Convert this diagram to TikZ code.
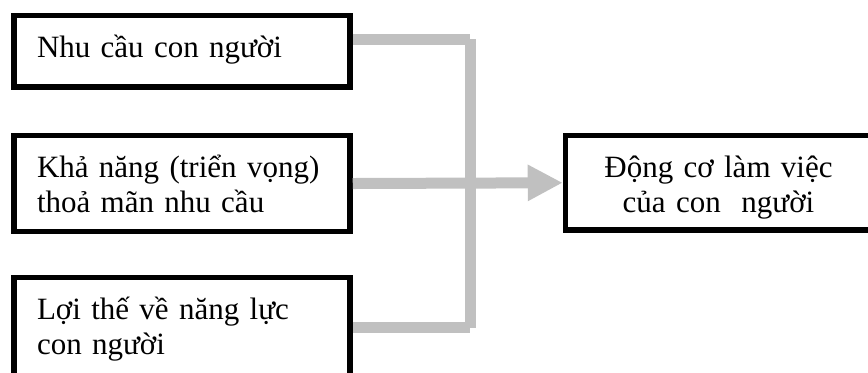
\documentclass[tikz,border=0pt]{standalone}
\usepackage{fontspec}
\setmainfont{Liberation Serif}
\usepackage{xcolor}
\usetikzlibrary{math,arrows.meta}
\definecolor{linkgray}{RGB}{192,192,192}

\begin{document}
\begin{tikzpicture}[x=0.5pt,y=-0.5pt,
    box/.style={draw, line width=2.75pt, inner xsep=11.4pt, inner ysep=0pt,
      text height=20.75pt, anchor=north west, align=left, text width=145.1pt,
      font=\fontsize{15.5pt}{17.5pt}\selectfont},
    link/.style={draw=linkgray, line width=5.5pt}]
      \tikzmath{\jx = 470; \jt = 39; \jb = 327.5;}
      \clip (0,0) rectangle (868,372);
      \node[box, text depth=15pt] (need) at (11.45,12.75) {Nhu cầu con người};
      \node[box, text depth=27.25pt] (chance) at (11.45,132.75) {Khả năng (triển vọng)\\thoả mãn nhu cầu};
      \node[box, text depth=29.25pt] (gift) at (11.45,274.75) {Lợi thế về năng lực\\con người};
      \node[box, text depth=26.5pt, align=center, text width=130.2pt] (motive) at (562.75,132.75) {Động cơ làm việc\\của con\ \ người};
      \coordinate (jtop) at (\jx,\jt);
      \coordinate (jbot) at (\jx,\jb);
      \draw[link] (need.east |- jtop) -- (jtop);
      \draw[link] (gift.east |- jbot) -- (jbot);
      \draw[link] (jtop) -- (jbot);
      \draw[link, -{Triangle[length=17.5pt,width=17pt]}] (chance.east) -- (motive.west);
    \end{tikzpicture}
\end{document}
